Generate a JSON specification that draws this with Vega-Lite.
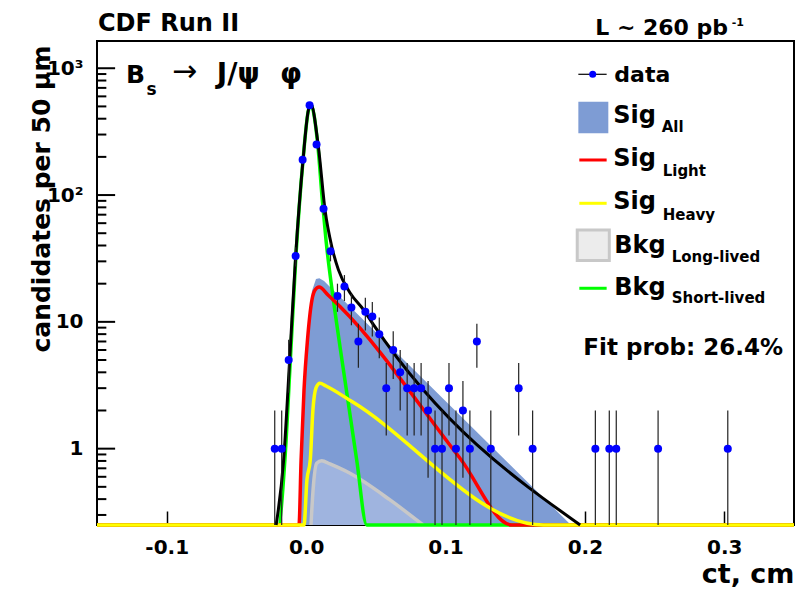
{
  "$schema": "https://vega.github.io/schema/vega-lite/v6.json",
  "width": 697,
  "height": 484,
  "autosize": "none",
  "padding": {"left": 97, "top": 41, "right": 15, "bottom": 64},
  "background": "white",
  "config": {"view": {"stroke": "black", "strokeWidth": 2}, "font": "DejaVu Sans"},
  "datasets": {
    "one": [{}],
    "ymajor": [{"v": 1}, {"v": 10}, {"v": 100}, {"v": 1000}],
    "yminor": [
      {"v": 0.3}, {"v": 0.4}, {"v": 0.5}, {"v": 0.6}, {"v": 0.7}, {"v": 0.8}, {"v": 0.9},
      {"v": 2}, {"v": 3}, {"v": 4}, {"v": 5}, {"v": 6}, {"v": 7}, {"v": 8}, {"v": 9},
      {"v": 20}, {"v": 30}, {"v": 40}, {"v": 50}, {"v": 60}, {"v": 70}, {"v": 80}, {"v": 90},
      {"v": 200}, {"v": 300}, {"v": 400}, {"v": 500}, {"v": 600}, {"v": 700}, {"v": 800}, {"v": 900}
    ],
    "pts": [
      {"ct": -0.0225, "n": 1, "lo": 0.1, "hi": 2},
      {"ct": -0.0175, "n": 1, "lo": 0.1, "hi": 2},
      {"ct": -0.0125, "n": 5, "lo": 2.76, "hi": 7.24},
      {"ct": -0.0075, "n": 33, "lo": 27.3, "hi": 38.7},
      {"ct": -0.0025, "n": 190, "lo": 176.2, "hi": 203.8},
      {"ct": 0.0025, "n": 510, "lo": 487.4, "hi": 532.6},
      {"ct": 0.0075, "n": 250, "lo": 234.2, "hi": 265.8},
      {"ct": 0.0125, "n": 78, "lo": 69.2, "hi": 86.8},
      {"ct": 0.0175, "n": 36, "lo": 30, "hi": 42},
      {"ct": 0.0225, "n": 16, "lo": 12, "hi": 20},
      {"ct": 0.0275, "n": 19, "lo": 14.6, "hi": 23.4},
      {"ct": 0.0325, "n": 13, "lo": 9.4, "hi": 16.6},
      {"ct": 0.0375, "n": 7, "lo": 4.35, "hi": 9.65},
      {"ct": 0.0425, "n": 12, "lo": 8.54, "hi": 15.46},
      {"ct": 0.0475, "n": 11, "lo": 7.68, "hi": 14.32},
      {"ct": 0.0525, "n": 8, "lo": 5.17, "hi": 10.83},
      {"ct": 0.0575, "n": 3, "lo": 1.27, "hi": 4.73},
      {"ct": 0.0625, "n": 6, "lo": 3.55, "hi": 8.45},
      {"ct": 0.0675, "n": 4, "lo": 2, "hi": 6},
      {"ct": 0.0725, "n": 3, "lo": 1.27, "hi": 4.73},
      {"ct": 0.0775, "n": 3, "lo": 1.27, "hi": 4.73},
      {"ct": 0.0825, "n": 3, "lo": 1.27, "hi": 4.73},
      {"ct": 0.0875, "n": 2, "lo": 0.59, "hi": 3.41},
      {"ct": 0.0925, "n": 1, "lo": 0.1, "hi": 2},
      {"ct": 0.0975, "n": 1, "lo": 0.1, "hi": 2},
      {"ct": 0.1025, "n": 3, "lo": 1.27, "hi": 4.73},
      {"ct": 0.1075, "n": 1, "lo": 0.1, "hi": 2},
      {"ct": 0.1125, "n": 2, "lo": 0.59, "hi": 3.41},
      {"ct": 0.1175, "n": 1, "lo": 0.1, "hi": 2},
      {"ct": 0.1225, "n": 7, "lo": 4.35, "hi": 9.65},
      {"ct": 0.1325, "n": 1, "lo": 0.1, "hi": 2},
      {"ct": 0.1525, "n": 3, "lo": 1.27, "hi": 4.73},
      {"ct": 0.1625, "n": 1, "lo": 0.1, "hi": 2},
      {"ct": 0.2075, "n": 1, "lo": 0.1, "hi": 2},
      {"ct": 0.2175, "n": 1, "lo": 0.1, "hi": 2},
      {"ct": 0.2225, "n": 1, "lo": 0.1, "hi": 2},
      {"ct": 0.2525, "n": 1, "lo": 0.1, "hi": 2},
      {"ct": 0.3025, "n": 1, "lo": 0.1, "hi": 2}
    ],
    "sigall": [
      {"ct": -0.0051, "y": 0.25},
      {"ct": -0.0036, "y": 0.82},
      {"ct": -0.0015, "y": 3.0},
      {"ct": 0.001, "y": 7.6},
      {"ct": 0.0042, "y": 17.5},
      {"ct": 0.0071, "y": 21.8},
      {"ct": 0.0095, "y": 22.1},
      {"ct": 0.0129, "y": 21.0},
      {"ct": 0.0172, "y": 18.8},
      {"ct": 0.19, "y": 0.25}
    ],
    "bkglong": [
      {"ct": 0.0035, "y": 0.25},
      {"ct": 0.005, "y": 0.472},
      {"ct": 0.0076, "y": 0.767},
      {"ct": 0.0112, "y": 0.804},
      {"ct": 0.0171, "y": 0.757},
      {"ct": 0.0315, "y": 0.639},
      {"ct": 0.0602, "y": 0.394},
      {"ct": 0.0839, "y": 0.25}
    ],
    "green": [
      {"ct": -0.15, "y": 0.25},
      {"ct": -0.0199, "y": 0.25},
      {"ct": -0.0152, "y": 0.82},
      {"ct": -0.0113, "y": 5.0},
      {"ct": -0.0073, "y": 33},
      {"ct": -0.0022, "y": 189},
      {"ct": 0.0014, "y": 450},
      {"ct": 0.0032, "y": 520},
      {"ct": 0.0086, "y": 235},
      {"ct": 0.0115, "y": 95},
      {"ct": 0.0143, "y": 44},
      {"ct": 0.0194, "y": 15.4},
      {"ct": 0.0243, "y": 6.4},
      {"ct": 0.0363, "y": 0.815},
      {"ct": 0.0435, "y": 0.25},
      {"ct": 0.35, "y": 0.25}
    ],
    "red": [
      {"ct": -0.15, "y": 0.25},
      {"ct": -0.0051, "y": 0.25},
      {"ct": -0.0036, "y": 0.81},
      {"ct": -0.0015, "y": 2.9},
      {"ct": 0.001, "y": 7.2},
      {"ct": 0.0042, "y": 14.9},
      {"ct": 0.0064, "y": 17.8},
      {"ct": 0.0093, "y": 18.8},
      {"ct": 0.0157, "y": 16.3},
      {"ct": 0.0243, "y": 13.2},
      {"ct": 0.1104, "y": 0.84},
      {"ct": 0.1475, "y": 0.25},
      {"ct": 0.35, "y": 0.25}
    ],
    "yellow": [
      {"ct": -0.15, "y": 0.25},
      {"ct": -0.0015, "y": 0.25},
      {"ct": 0.0006, "y": 0.567},
      {"ct": 0.003, "y": 0.815},
      {"ct": 0.0049, "y": 2.02},
      {"ct": 0.0071, "y": 3.01},
      {"ct": 0.0099, "y": 3.28},
      {"ct": 0.0143, "y": 3.12},
      {"ct": 0.0329, "y": 2.35},
      {"ct": 0.1702, "y": 0.25},
      {"ct": 0.35, "y": 0.25}
    ],
    "total": [
      {"ct": -0.0215, "y": 0.25},
      {"ct": -0.0161, "y": 0.82},
      {"ct": -0.0118, "y": 5.0},
      {"ct": -0.0075, "y": 33},
      {"ct": -0.0022, "y": 189},
      {"ct": 0.0014, "y": 453},
      {"ct": 0.0032, "y": 530},
      {"ct": 0.0088, "y": 241},
      {"ct": 0.0136, "y": 76},
      {"ct": 0.0184, "y": 39.3},
      {"ct": 0.0232, "y": 25.7},
      {"ct": 0.0316, "y": 16.9},
      {"ct": 0.0411, "y": 12.5},
      {"ct": 0.0483, "y": 9.5},
      {"ct": 0.1966, "y": 0.25}
    ]
  },
  "layer": [
    {
      "data": {"name": "sigall"},
      "mark": {"type": "area", "color": "#7e9cd4", "opacity": 1},
      "encoding": {
        "x": {
          "field": "ct", "type": "quantitative",
          "scale": {"domain": [-0.15, 0.35], "nice": false, "zero": false},
          "axis": {
            "values": [-0.1, 0, 0.1, 0.2, 0.3],
            "labelExpr": "datum.value < 0 ? '-' + format(-datum.value, '.1f') : format(datum.value, '.1f')",
            "tickSize": -14, "tickColor": "black", "tickWidth": 1.5,
            "domain": false, "grid": false,
            "labelFont": "DejaVu Sans", "labelFontWeight": "bold", "labelFontSize": 20, "labelColor": "black",
            "labelPadding": 26, "labelFlush": false,
            "title": "ct, cm", "titleFont": "DejaVu Sans", "titleFontWeight": "bold", "titleFontSize": 27, "titleColor": "black",
            "titleX": 697, "titleY": 57, "titleAlign": "right", "titleBaseline": "alphabetic", "titleAnchor": null
          }
        },
        "y": {
          "field": "y", "type": "quantitative",
          "scale": {"type": "log", "domain": [0.25, 1640], "nice": false},
          "axis": {
            "values": [1, 10, 100, 1000],
            "labelExpr": "datum.value == 1000 ? '10³' : datum.value == 100 ? '10²' : datum.value == 10 ? '10' : '1'",
            "ticks": false,
            "grid": false, "domain": false, "labelOverlap": false,
            "labelFont": "DejaVu Sans", "labelFontWeight": "bold", "labelFontSize": 20, "labelColor": "black",
            "labelPadding": 14,
            "title": "candidates per 50 μm", "titleFont": "DejaVu Sans", "titleFontWeight": "bold", "titleFontSize": 25, "titleColor": "black",
            "titleAngle": -90, "titleX": -56, "titleY": 4, "titleAlign": "right", "titleBaseline": "middle", "titleAnchor": null
          }
        },
        "y2": {"datum": 0.25}
      }
    },
    {
      "data": {"name": "bkglong"},
      "mark": {"type": "area", "color": "#9fb4df", "opacity": 1},
      "encoding": {
        "x": {"field": "ct", "type": "quantitative"},
        "y": {"field": "y", "type": "quantitative"},
        "y2": {"datum": 0.25}
      }
    },
    {
      "data": {"name": "bkglong"},
      "mark": {"type": "line", "color": "#c8c8c8", "strokeWidth": 3.5, "interpolate": "monotone"},
      "encoding": {
        "x": {"field": "ct", "type": "quantitative"},
        "y": {"field": "y", "type": "quantitative"}
      }
    },
    {
      "data": {"name": "green"},
      "mark": {"type": "line", "color": "#00ff00", "strokeWidth": 3.5, "interpolate": "monotone", "clip": false},
      "encoding": {
        "x": {"field": "ct", "type": "quantitative"},
        "y": {"field": "y", "type": "quantitative"}
      }
    },
    {
      "data": {"name": "red"},
      "mark": {"type": "line", "color": "#ff0000", "strokeWidth": 3.5, "interpolate": "monotone", "clip": false},
      "encoding": {
        "x": {"field": "ct", "type": "quantitative"},
        "y": {"field": "y", "type": "quantitative"}
      }
    },
    {
      "data": {"name": "yellow"},
      "mark": {"type": "line", "color": "#ffff00", "strokeWidth": 3.5, "interpolate": "monotone", "clip": false},
      "encoding": {
        "x": {"field": "ct", "type": "quantitative"},
        "y": {"field": "y", "type": "quantitative"}
      }
    },
    {
      "data": {"name": "total"},
      "mark": {"type": "line", "color": "#000000", "strokeWidth": 3, "interpolate": "monotone", "clip": false},
      "encoding": {
        "x": {"field": "ct", "type": "quantitative"},
        "y": {"field": "y", "type": "quantitative"}
      }
    },
    {
      "data": {"name": "pts"},
      "mark": {"type": "rule", "color": "#222222", "strokeWidth": 1.2, "clip": true},
      "encoding": {
        "x": {"field": "ct", "type": "quantitative"},
        "y": {"field": "lo", "type": "quantitative"},
        "y2": {"field": "hi"}
      }
    },
    {
      "data": {"name": "pts"},
      "mark": {"type": "circle", "color": "#0000ff", "opacity": 1, "size": 64},
      "encoding": {
        "x": {"field": "ct", "type": "quantitative"},
        "y": {"field": "n", "type": "quantitative"}
      }
    },
    {
      "data": {"name": "ymajor"},
      "mark": {"type": "rule", "color": "#000000", "strokeWidth": 2, "opacity": 1},
      "encoding": {
        "x": {"datum": -0.1495},
        "x2": {"datum": -0.137},
        "y": {"field": "v", "type": "quantitative"}
      }
    },
    {
      "data": {"name": "yminor"},
      "mark": {"type": "rule", "color": "#000000", "strokeWidth": 2, "opacity": 1},
      "encoding": {
        "x": {"datum": -0.1495},
        "x2": {"datum": -0.1433},
        "y": {"field": "v", "type": "quantitative"}
      }
    },
    {
      "data": {"name": "one"},
      "mark": {"type": "text", "text": "CDF Run II", "align": "left", "baseline": "alphabetic", "font": "DejaVu Sans", "fontWeight": "bold", "fontSize": 24, "color": "black"},
      "encoding": {"x": {"datum": -0.1493}, "y": {"datum": 1977}}
    },
    {
      "data": {"name": "one"},
      "mark": {"type": "text", "text": "L ~ 260 pb", "align": "right", "baseline": "alphabetic", "font": "DejaVu Sans", "fontWeight": "bold", "fontSize": 22, "color": "black"},
      "encoding": {"x": {"datum": 0.3027}, "y": {"datum": 1829}}
    },
    {
      "data": {"name": "one"},
      "mark": {"type": "text", "text": "-1", "align": "left", "baseline": "alphabetic", "font": "DejaVu Sans", "fontWeight": "bold", "fontSize": 11, "color": "black"},
      "encoding": {"x": {"datum": 0.3053}, "y": {"datum": 2153}}
    },
    {
      "data": {"name": "one"},
      "mark": {"type": "text", "text": "B", "align": "left", "baseline": "alphabetic", "font": "DejaVu Sans", "fontWeight": "bold", "fontSize": 25, "color": "black"},
      "encoding": {"x": {"datum": -0.1292}, "y": {"datum": 761}}
    },
    {
      "data": {"name": "one"},
      "mark": {"type": "text", "text": "s", "align": "left", "baseline": "alphabetic", "font": "DejaVu Sans", "fontWeight": "bold", "fontSize": 17, "color": "black"},
      "encoding": {"x": {"datum": -0.1145}, "y": {"datum": 615}}
    },
    {
      "data": {"name": "one"},
      "mark": {"type": "text", "text": "→", "align": "left", "baseline": "middle", "font": "DejaVu Sans", "fontWeight": "normal", "fontSize": 30, "color": "black"},
      "encoding": {"x": {"datum": -0.0962}, "y": {"datum": 934}}
    },
    {
      "data": {"name": "one"},
      "mark": {"type": "text", "text": "J/ψ", "align": "left", "baseline": "alphabetic", "font": "DejaVu Sans", "fontWeight": "bold", "fontSize": 28, "color": "black"},
      "encoding": {"x": {"datum": -0.0641}, "y": {"datum": 761}}
    },
    {
      "data": {"name": "one"},
      "mark": {"type": "text", "text": "φ", "align": "left", "baseline": "alphabetic", "font": "DejaVu Sans", "fontWeight": "bold", "fontSize": 28, "color": "black"},
      "encoding": {"x": {"datum": -0.0187}, "y": {"datum": 761}}
    },
    {
      "data": {"name": "one"},
      "mark": {"type": "rule", "color": "black", "strokeWidth": 1.2},
      "encoding": {"x": {"datum": 0.1953}, "x2": {"datum": 0.2156}, "y": {"datum": 896}}
    },
    {
      "data": {"name": "one"},
      "mark": {"type": "circle", "color": "#0000ff", "opacity": 1, "size": 50},
      "encoding": {"x": {"datum": 0.2056}, "y": {"datum": 896}}
    },
    {
      "data": {"name": "one"},
      "mark": {"type": "text", "text": "data", "align": "left", "baseline": "alphabetic", "font": "DejaVu Sans", "fontWeight": "bold", "fontSize": 22, "color": "black"},
      "encoding": {"x": {"datum": 0.2211}, "y": {"datum": 783}}
    },
    {
      "data": {"name": "one"},
      "mark": {"type": "rect", "color": "#7e9cd4", "opacity": 1},
      "encoding": {"x": {"datum": 0.1953}, "x2": {"datum": 0.2168}, "y": {"datum": 545}, "y2": {"datum": 307}}
    },
    {
      "data": {"name": "one"},
      "mark": {"type": "text", "text": "Sig", "align": "left", "baseline": "alphabetic", "font": "DejaVu Sans", "fontWeight": "bold", "fontSize": 24, "color": "black"},
      "encoding": {"x": {"datum": 0.2204}, "y": {"datum": 368}}
    },
    {
      "data": {"name": "one"},
      "mark": {"type": "text", "text": "All", "align": "left", "baseline": "alphabetic", "font": "DejaVu Sans", "fontWeight": "bold", "fontSize": 15, "color": "black"},
      "encoding": {"x": {"datum": 0.2551}, "y": {"datum": 316}}
    },
    {
      "data": {"name": "one"},
      "mark": {"type": "rule", "color": "#ff0000", "strokeWidth": 3},
      "encoding": {"x": {"datum": 0.196}, "x2": {"datum": 0.2156}, "y": {"datum": 189}}
    },
    {
      "data": {"name": "one"},
      "mark": {"type": "text", "text": "Sig", "align": "left", "baseline": "alphabetic", "font": "DejaVu Sans", "fontWeight": "bold", "fontSize": 24, "color": "black"},
      "encoding": {"x": {"datum": 0.2204}, "y": {"datum": 169.5}}
    },
    {
      "data": {"name": "one"},
      "mark": {"type": "text", "text": "Light", "align": "left", "baseline": "alphabetic", "font": "DejaVu Sans", "fontWeight": "bold", "fontSize": 15, "color": "black"},
      "encoding": {"x": {"datum": 0.2558}, "y": {"datum": 141}}
    },
    {
      "data": {"name": "one"},
      "mark": {"type": "rule", "color": "#ffff00", "strokeWidth": 3},
      "encoding": {"x": {"datum": 0.196}, "x2": {"datum": 0.2156}, "y": {"datum": 86.1}}
    },
    {
      "data": {"name": "one"},
      "mark": {"type": "text", "text": "Sig", "align": "left", "baseline": "alphabetic", "font": "DejaVu Sans", "fontWeight": "bold", "fontSize": 24, "color": "black"},
      "encoding": {"x": {"datum": 0.2204}, "y": {"datum": 77.2}}
    },
    {
      "data": {"name": "one"},
      "mark": {"type": "text", "text": "Heavy", "align": "left", "baseline": "alphabetic", "font": "DejaVu Sans", "fontWeight": "bold", "fontSize": 15, "color": "black"},
      "encoding": {"x": {"datum": 0.2558}, "y": {"datum": 63.6}}
    },
    {
      "data": {"name": "one"},
      "mark": {"type": "rect", "color": "#ececec", "opacity": 1, "stroke": "#c8c8c8", "strokeWidth": 3},
      "encoding": {"x": {"datum": 0.1945}, "x2": {"datum": 0.2175}, "y": {"datum": 53.0}, "y2": {"datum": 30.4}}
    },
    {
      "data": {"name": "one"},
      "mark": {"type": "text", "text": "Bkg", "align": "left", "baseline": "alphabetic", "font": "DejaVu Sans", "fontWeight": "bold", "fontSize": 24, "color": "black"},
      "encoding": {"x": {"datum": 0.2211}, "y": {"datum": 34.7}}
    },
    {
      "data": {"name": "one"},
      "mark": {"type": "text", "text": "Long-lived", "align": "left", "baseline": "alphabetic", "font": "DejaVu Sans", "fontWeight": "bold", "fontSize": 15, "color": "black"},
      "encoding": {"x": {"datum": 0.2623}, "y": {"datum": 29.8}}
    },
    {
      "data": {"name": "one"},
      "mark": {"type": "rule", "color": "#00ff00", "strokeWidth": 3},
      "encoding": {"x": {"datum": 0.196}, "x2": {"datum": 0.2156}, "y": {"datum": 18.4}}
    },
    {
      "data": {"name": "one"},
      "mark": {"type": "text", "text": "Bkg", "align": "left", "baseline": "alphabetic", "font": "DejaVu Sans", "fontWeight": "bold", "fontSize": 24, "color": "black"},
      "encoding": {"x": {"datum": 0.2211}, "y": {"datum": 16.3}}
    },
    {
      "data": {"name": "one"},
      "mark": {"type": "text", "text": "Short-lived", "align": "left", "baseline": "alphabetic", "font": "DejaVu Sans", "fontWeight": "bold", "fontSize": 15, "color": "black"},
      "encoding": {"x": {"datum": 0.2623}, "y": {"datum": 14.0}}
    },
    {
      "data": {"name": "one"},
      "mark": {"type": "text", "text": "Fit prob: 26.4%", "align": "left", "baseline": "alphabetic", "font": "DejaVu Sans", "fontWeight": "bold", "fontSize": 23, "color": "black"},
      "encoding": {"x": {"datum": 0.1989}, "y": {"datum": 5.48}}
    }
  ]
}
